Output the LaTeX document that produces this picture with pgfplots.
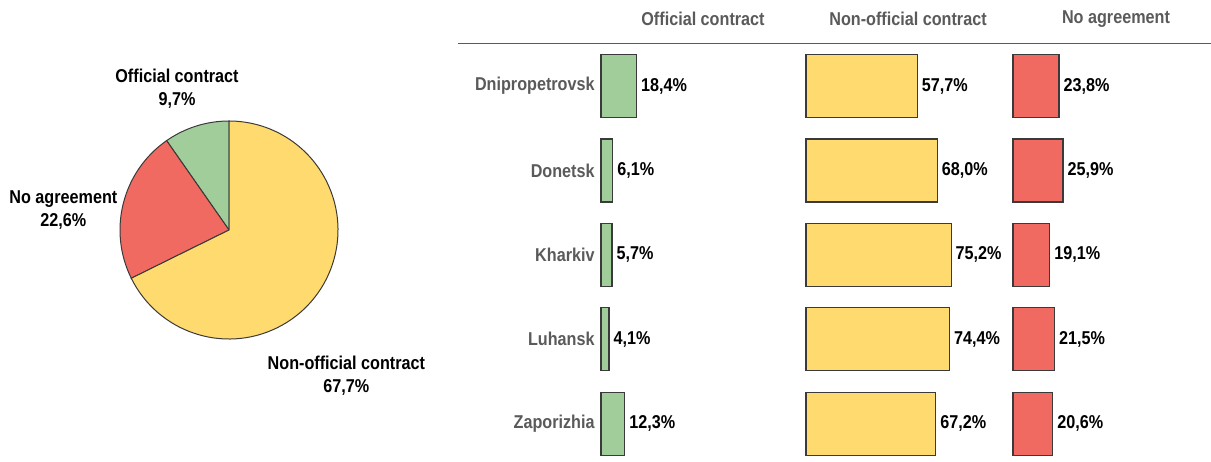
\documentclass[border=0pt]{standalone}
\usepackage{pgfplots}
\usepackage{pgfplotstable}
\pgfplotsset{compat=1.18}
\usepackage{fontspec}
\setmainfont{Liberation Sans}[FakeStretch=0.87]
\definecolor{cgreen}{HTML}{A0CD99}
\definecolor{cyellow}{HTML}{FFDA6E}
\definecolor{cred}{HTML}{F06A62}
\definecolor{cedge}{HTML}{3A3A3A}
\definecolor{cgray}{HTML}{5A5A5A}

\pgfplotstableread{
idx region off non no
0 Dnipropetrovsk 18.4 57.7 23.8
1 Donetsk 6.1 68.0 25.9
2 Kharkiv 5.7 75.2 19.1
3 Luhansk 4.1 74.4 21.5
4 Zaporizhia 12.3 67.2 20.6
}\regions

% overall shares (pie)
\def\vOff{9.7}
\def\vNo{22.6}
\def\vNon{67.7}

\pgfplotsset{
  /pgf/number format/assume math mode=true,
  barax/.style={
    at={(#1,208.6pt)}, anchor=north west,
    x=0.965pt, y=42.2pt, y dir=reverse,
    xmin=0, xmax=100, ymin=-0.5, ymax=4.5,
    axis line style={draw=none}, major tick length=0pt,
    xtick=\empty, ytick=\empty, clip=false,
    point meta=x,
    nodes near coords={\pgfmathprintnumber[fixed,fixed zerofill,precision=1,use comma]{\pgfplotspointmeta}\%},
    nodes near coords align=horizontal,
    every node near coord/.append style={font=\bfseries, text=black, inner sep=0pt, anchor=west, xshift=2pt},
  },
  barplot/.style={xbar, bar width=31.5pt, fill=#1, draw=cedge, line width=0.6pt},
}

\begin{document}
\fontsize{9.3}{11.5}\selectfont
\begin{tikzpicture}
\useasboundingbox (0,0) rectangle (605.5pt,230.5pt);

% ---------- Pie ----------
\begin{axis}[at={(114.5pt,115.5pt)}, anchor=center, x=54.5pt, y=54.5pt,
  xmin=-1, xmax=1, ymin=-1, ymax=1, hide axis, clip=false]
\pgfmathsetmacro\aA{90+3.6*\vOff}
\pgfmathsetmacro\aB{\aA+3.6*\vNo}
\pgfmathsetmacro\aC{\aB+3.6*\vNon}
\filldraw[fill=cgreen, draw=cedge, line width=0.5pt] (axis cs:0,0) -- ([shift={(90:54.5pt)}]axis cs:0,0) arc[start angle=90, end angle=\aA, radius=54.5pt] -- cycle;
\filldraw[fill=cred, draw=cedge, line width=0.5pt] (axis cs:0,0) -- ([shift={(\aA:54.5pt)}]axis cs:0,0) arc[start angle=\aA, end angle=\aB, radius=54.5pt] -- cycle;
\filldraw[fill=cyellow, draw=cedge, line width=0.5pt] (axis cs:0,0) -- ([shift={(\aB:54.5pt)}]axis cs:0,0) arc[start angle=\aB, end angle=\aC, radius=54.5pt] -- cycle;
\end{axis}

\node[align=center, font=\bfseries, inner sep=0pt] at (88.5pt,186.3pt) {Official contract\\9,7\%};
\node[align=center, font=\bfseries, inner sep=0pt] at (31.7pt,125.3pt) {No agreement\\22,6\%};
\node[align=center, font=\bfseries, inner sep=0pt] at (173.2pt,42.5pt) {Non-official contract\\67,7\%};

% ---------- Header ----------
\node[font=\bfseries, text=cgray] at (351.5pt,221pt) {Official contract};
\node[font=\bfseries, text=cgray] at (454pt,221pt) {Non-official contract};
\node[font=\bfseries, text=cgray] at (558pt,221pt) {No agreement};
\draw[cgray, line width=0.8pt] (229pt,208.65pt) -- (605.5pt,208.65pt);

% ---------- Bars ----------
\begin{axis}[barax=300.5pt, ytick={0,...,4},
  yticklabels from table={\regions}{region},
  yticklabel style={font=\bfseries, text=cgray, inner sep=0pt, xshift=-3pt}]
\addplot[barplot=cgreen] table[x=off, y=idx] {\regions};
\end{axis}
\begin{axis}[barax=403pt]
\addplot[barplot=cyellow] table[x=non, y=idx] {\regions};
\end{axis}
\begin{axis}[barax=506.5pt]
\addplot[barplot=cred] table[x=no, y=idx] {\regions};
\end{axis}
\end{tikzpicture}
\end{document}
